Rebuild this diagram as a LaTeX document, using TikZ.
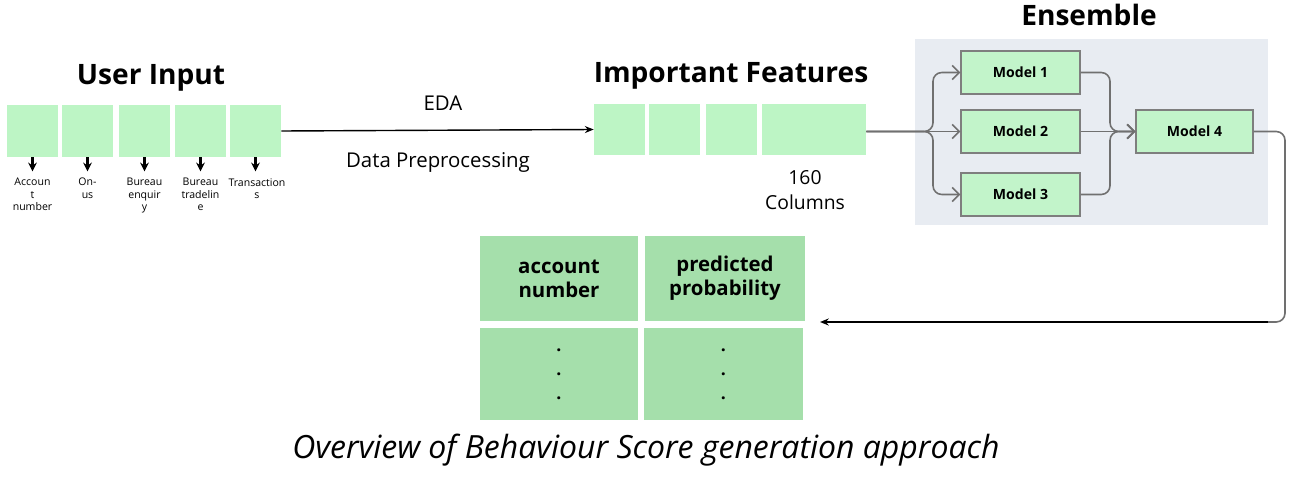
\documentclass[tikz,border=0pt]{standalone}
\usepackage{fontspec}
\setmainfont{Open Sans}
\usetikzlibrary{arrows.meta}
\definecolor{boxgreen}{HTML}{BDF5C5}
\definecolor{cellgreen}{HTML}{A5DFAB}
\definecolor{modelgreen}{HTML}{C2F4CA}
\definecolor{ensbg}{HTML}{E8ECF2}
\definecolor{flowgray}{HTML}{707070}
\newcommand{\pxu}{0.02cm}
\tikzset{
  title/.style={font=\fontsize{16}{18}\selectfont\bfseries},
  inbox/.style={fill=boxgreen, minimum width=51*\pxu, minimum height=52*\pxu, inner sep=0},
  featbox/.style={fill=boxgreen, minimum height=51*\pxu, inner sep=0},
  small/.style={font=\fontsize{6}{7.1}\selectfont, align=center, anchor=north, inner sep=0},
  modelbox/.style={draw=flowgray!90, line width=0.7pt, fill=modelgreen, minimum width=119*\pxu, minimum height=43*\pxu,
    inner sep=0, font=\fontsize{8}{9}\selectfont\bfseries},
  cellbox/.style={fill=cellgreen, inner sep=0, align=center, font=\fontsize{11.6}{13.6}\selectfont\bfseries},
  flow/.style={draw=flowgray, line width=0.9pt, rounded corners=5pt},
}
\begin{document}
\begin{tikzpicture}[x=0.02cm,y=-0.02cm]
\useasboundingbox (0,0) rectangle (1313,480);
% user input
\node[title] (uititle) at (151,78) {User Input};
\node[inbox] (ui1) at (32.5,131) {};
\node[inbox] (ui2) at (87.5,131) {};
\node[inbox] (ui3) at (144.5,131) {};
\node[inbox] (ui4) at (200.5,131) {};
\node[inbox] (ui5) at (255.5,131) {};
\node[small] (lb1) at (32.5,178) {Accoun\\t\\number};
\node[small] (lb2) at (87.5,178) {On-\\us};
\node[small] (lb3) at (144.5,178) {Bureau\\enquir\\y};
\node[small] (lb4) at (200.5,178) {Bureau\\tradelin\\e};
\node[small] (lb5) at (257,178) {Transaction\\s};
\foreach \i in {1,...,5}
  \draw[line width=1.2pt, -{Stealth[length=5pt,width=5pt]}] (ui\i.south) -- ++(0,14);
% important features
\node[title] (iftitle) at (731,76) {Important Features};
\node[featbox, minimum width=51*\pxu] (if1) at (619.5,129.5) {};
\node[featbox, minimum width=51*\pxu] (if2) at (674.5,129.5) {};
\node[featbox, minimum width=51*\pxu] (if3) at (731.5,129.5) {};
\node[featbox, minimum width=104*\pxu] (if4) at (814,129.5) {};
\node[font=\fontsize{11}{14}\selectfont, align=center] (cols) at (805,190) {160\\Columns};
\draw[line width=0.8pt, -{Stealth[length=5pt,width=4pt]}] (ui5.east) -- (if1.west);
\node[font=\fontsize{11.6}{13}\selectfont] (eda) at (443,103) {EDA};
\node[font=\fontsize{11.6}{13}\selectfont] (prep) at (438,162) {Data Preprocessing};
% ensemble
\fill[ensbg] (915,39) rectangle (1268,225);
\node[title] (enstitle) at (1089,15) {Ensemble};
\node[modelbox] (m1) at (1020.5,72.5) {Model 1};
\node[modelbox] (m2) at (1020.5,131.5) {Model 2};
\node[modelbox] (m3) at (1020.5,194.5) {Model 3};
\node[modelbox, minimum width=117*\pxu] (m4) at (1194.5,131.5) {Model 4};
\coordinate (fork) at (933,131.5);
\coordinate (merge) at (1110,131.5);
\draw[flow, -{Straight Barb[length=4pt]}] (if4.east |- fork) -- (fork) |- (m1.west);
\draw[flow, -{Straight Barb[length=4pt]}] (if4.east |- fork) -- (fork) |- (m3.west);
\draw[flow, -{Straight Barb[length=4pt]}] (if4.east |- fork) -- (m2.west);
\draw[flow, -{Straight Barb[length=4pt]}] (m1.east) -| (merge) -- (m4.west);
\draw[flow, -{Straight Barb[length=4pt]}] (m3.east) -| (merge) -- (m4.west);
\draw[flow, -{Straight Barb[length=4pt]}] (m2.east) -- (m4.west);
% output back to table
\coordinate (down) at (1285,322);
\coordinate (turn) at (1268,322);
\coordinate (back) at (820,322);
\draw[flow] (m4.east) -| (down) -- (turn);
\draw[line width=0.8pt, -{Stealth[length=5pt,width=4pt]}] (turn) -- (back);
% result table
\node[cellbox, minimum width=158*\pxu, minimum height=85*\pxu] (c11) at (559,278.5) {account\\number};
\node[cellbox, minimum width=160*\pxu, minimum height=85*\pxu] (c12) at (725,278.5) {predicted\\probability};
\node[cellbox, font=\fontsize{10}{13.6}\selectfont\bfseries, minimum width=158*\pxu, minimum height=92*\pxu] (c21) at (559,374) {.\\.\\.};
\node[cellbox, font=\fontsize{10}{13.6}\selectfont\bfseries, minimum width=159*\pxu, minimum height=92*\pxu] (c22) at (723.5,374) {.\\.\\.};
% caption
\node[font=\fontsize{18.2}{21}\selectfont\itshape] (caption) at (646,450) {Overview of Behaviour Score generation approach};
\end{tikzpicture}
\end{document}
